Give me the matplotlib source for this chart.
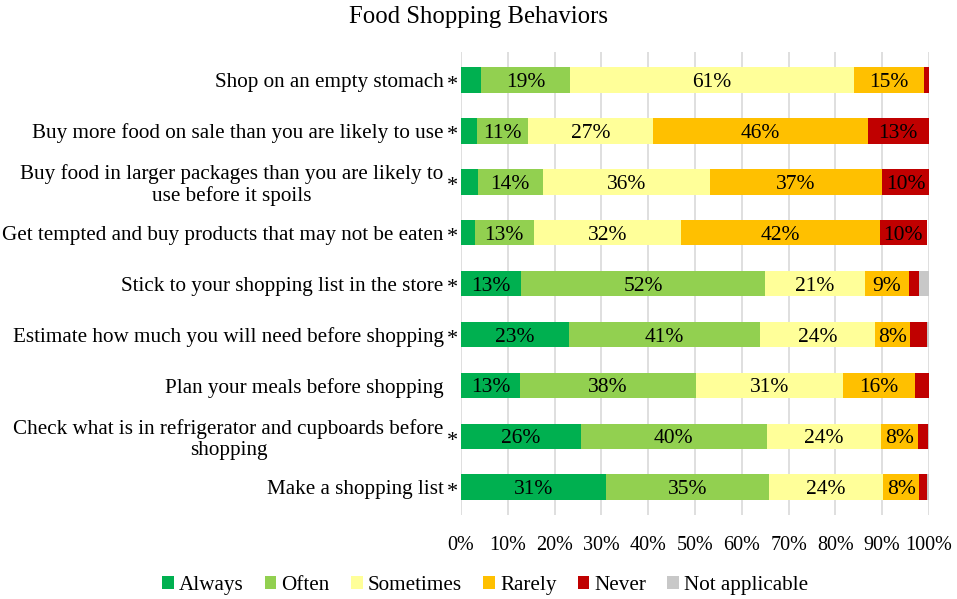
import matplotlib
matplotlib.use("Agg")
import matplotlib.pyplot as plt
import matplotlib.transforms as mtransforms
from matplotlib.patches import Patch
import numpy as np

plt.rcParams['font.family'] = ['Liberation Serif', 'DejaVu Serif']

categories = [
    "Shop on an empty stomach",
    "Buy more food on sale than you are likely to use",
    "Buy food in larger packages than you are likely to\nuse before it spoils",
    "Get tempted and buy products that may not be eaten",
    "Stick to your shopping list in the store",
    "Estimate how much you will need before shopping",
    "Plan your meals before shopping",
    "Check what is in refrigerator and cupboards before\nshopping",
    "Make a shopping list",
]
significant = [True, True, True, True, True, True, False, True, True]

series_names = ["Always", "Often", "Sometimes", "Rarely", "Never", "Not applicable"]
always    = [4.3, 3.4, 3.6, 2.9, 12.8, 23.1, 12.6, 25.6, 31.0]
often     = [19.0, 10.9, 13.9, 12.7, 52.2, 40.9, 37.7, 39.8, 34.8]
sometimes = [60.7, 26.7, 35.7, 31.5, 21.3, 24.4, 31.3, 24.3, 24.4]
rarely    = [15.0, 45.9, 36.8, 42.4, 9.4, 7.5, 15.5, 7.9, 7.7]
never     = [1.0, 13.1, 10.0, 10.0, 2.2, 3.6, 2.9, 2.2, 1.7]
not_appl  = [0.0, 0.0, 0.0, 0.0, 2.1, 0.5, 0.0, 0.2, 0.4]
xticks = [0, 10, 20, 30, 40, 50, 60, 70, 80, 90, 100]
xticklabels = ["0%", "10%", "20%", "30%", "40%", "50%", "60%", "70%", "80%", "90%", "100%"]

colors = ["#00B050", "#92D050", "#FFFF99", "#FFC000", "#C00000", "#C8C8C8"]
series = [always, often, sometimes, rarely, never, not_appl]

fig = plt.figure(figsize=(9.57, 5.99), dpi=100)
ax = fig.add_axes([0.4817, 0.140, 0.489, 0.773])

y = np.arange(len(categories))
left = np.zeros(len(categories))
for name, vals, col in zip(series_names, series, colors):
    vals = np.array(vals)
    ax.barh(y, vals, left=left, height=0.5, color=col, label=name, zorder=3)
    for yi, (l, v) in enumerate(zip(left, vals)):
        if v >= 5:
            ax.text(l + v / 2, yi, f"{round(v):d}%", ha="center",
                    va="center_baseline", fontsize=15.5, color="black", zorder=4)
    left = left + vals

ax.set_xlim(0, 100)
ax.set_ylim(8.55, -0.55)
ax.set_xticks(xticks)
ax.set_xticklabels(xticklabels, fontsize=14.5)
ax.set_yticks(y)
ax.set_yticklabels(categories, fontsize=15.2)
for t in ax.get_yticklabels():
    t.set_multialignment("center")
    t.set_linespacing(1.1)
ax.tick_params(axis="y", length=0, pad=12.5)
ax.tick_params(axis="x", length=0, pad=15)
ax.xaxis.grid(True, color="#D9D9D9", linewidth=1.2, zorder=0)
ax.set_axisbelow(True)
for s in ax.spines.values():
    s.set_visible(False)

trans = mtransforms.blended_transform_factory(ax.transAxes, ax.transData)
offset = mtransforms.ScaledTranslation(-9 / 100, -5 / 100, fig.dpi_scale_trans)
for yi, sig in enumerate(significant):
    if sig:
        ax.text(0, yi, "*", transform=trans + offset, ha="center", va="center",
                fontsize=16)

fig.suptitle("Food Shopping Behaviors", x=0.5, y=0.99, fontsize=17.8)

handles = [Patch(facecolor=c, label=n) for n, c in zip(series_names, colors)]
fig.legend(handles=handles, loc="center", bbox_to_anchor=(0.507, 0.022), ncol=6,
           frameon=False, fontsize=15.2, handlelength=0.55, handleheight=0.55,
           handletextpad=0.25, columnspacing=1.0)

fig.savefig("out.png", dpi=100)
